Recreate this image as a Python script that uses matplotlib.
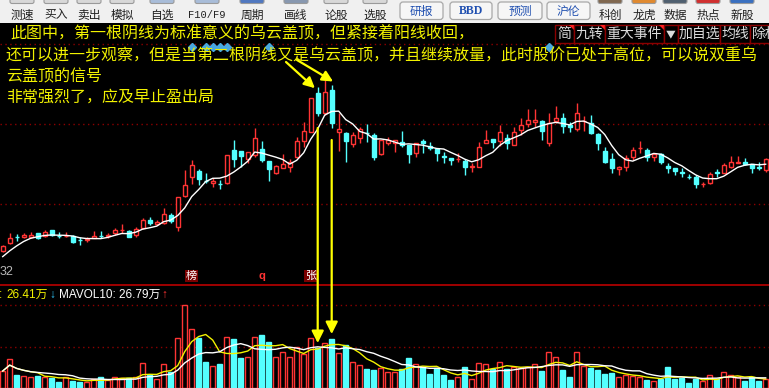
import numpy as np
import pandas as pd
import matplotlib
matplotlib.use('Agg')
import matplotlib.pyplot as plt
from matplotlib.patches import Rectangle, FancyBboxPatch, Polygon, ConnectionPatch

plt.rcParams['font.family'] = ['Noto Sans CJK SC', 'DejaVu Sans']

# daily bars, 110 sessions (price units)
opens = [4.93, 5.67, 6.35, 6.33, 6.27, 6.67, 6.43, 7.00, 6.45, 6.38,
         6.40, 6.02, 6.05, 6.23, 6.42, 6.41, 6.67, 6.98, 6.93, 6.50,
         7.17, 8.00, 7.60, 7.67, 8.50, 7.27, 10.40, 12.27, 12.93, 11.92,
         11.73, 11.59, 11.67, 15.00, 14.90, 14.10, 14.50, 15.10, 13.93, 12.73,
         13.23, 13.33, 14.27, 15.93, 16.83, 20.67, 18.70, 21.00, 16.77, 16.67,
         15.57, 16.17, 16.69, 16.50, 14.57, 15.67, 15.67, 15.77, 15.50, 14.73,
         15.93, 15.40, 15.07, 14.35, 14.17, 14.08, 13.93, 13.31, 13.33, 15.67,
         16.10, 15.93, 16.17, 15.50, 17.00, 17.57, 17.83, 17.93, 15.67, 17.93,
         18.17, 17.50, 17.07, 17.88, 17.73, 16.60, 14.90, 14.07, 13.10, 13.33,
         14.33, 15.15, 15.00, 14.27, 14.60, 13.40, 13.17, 12.83, 12.29, 12.27,
         11.55, 11.67, 12.83, 12.73, 13.33, 13.67, 13.83, 13.60, 13.25, 13.00]
highs = [5.50, 6.67, 6.60, 6.67, 6.83, 6.73, 7.00, 7.00, 6.77, 6.83,
         6.50, 6.27, 6.27, 6.90, 6.90, 6.67, 7.23, 7.57, 7.00, 7.33,
         8.17, 8.33, 8.00, 9.17, 8.73, 10.27, 13.00, 14.00, 13.07, 12.73,
         12.17, 12.00, 14.50, 16.00, 14.90, 14.83, 17.23, 15.90, 13.93, 13.50,
         14.60, 14.10, 16.33, 17.77, 20.20, 21.33, 22.00, 21.50, 18.67, 16.83,
         16.83, 17.33, 17.57, 16.67, 16.00, 16.27, 16.00, 16.90, 15.50, 15.67,
         16.07, 15.83, 15.17, 14.83, 14.17, 14.67, 14.07, 13.73, 15.83, 17.00,
         16.10, 17.50, 16.60, 17.27, 18.17, 19.10, 19.10, 18.00, 18.67, 19.40,
         18.67, 17.83, 19.67, 18.40, 18.50, 16.73, 15.33, 14.67, 13.40, 14.50,
         15.33, 15.93, 15.17, 14.73, 14.73, 13.67, 13.17, 13.17, 12.60, 12.50,
         11.83, 12.77, 13.10, 13.73, 14.40, 14.40, 14.17, 13.60, 13.77, 14.17]
lows = [4.85, 5.60, 5.93, 6.17, 6.17, 6.07, 6.33, 6.40, 6.23, 6.27,
        5.67, 5.50, 5.83, 6.17, 6.23, 6.23, 6.50, 6.73, 6.27, 6.33,
        7.07, 7.50, 7.50, 7.60, 7.73, 6.93, 10.33, 11.60, 11.50, 11.67,
        11.33, 11.07, 11.60, 13.33, 13.33, 13.67, 14.33, 13.83, 11.90, 12.60,
        13.17, 12.83, 14.17, 15.33, 16.80, 18.40, 18.50, 17.20, 14.93, 13.77,
        15.33, 15.67, 15.83, 14.00, 14.50, 15.50, 14.83, 15.33, 13.67, 14.27,
        14.73, 15.00, 13.93, 13.67, 13.50, 13.83, 12.50, 12.77, 13.33, 15.67,
        15.17, 15.43, 15.10, 15.50, 16.50, 17.33, 17.33, 16.00, 15.43, 17.73,
        16.73, 16.83, 16.93, 16.93, 16.60, 15.00, 13.67, 12.67, 12.50, 12.93,
        14.00, 14.73, 13.93, 13.90, 13.60, 12.67, 12.50, 12.27, 12.07, 11.23,
        11.33, 11.57, 12.33, 12.67, 13.23, 13.67, 13.50, 12.73, 13.00, 12.83]
closes = [5.40, 6.17, 6.30, 6.50, 6.50, 6.17, 6.83, 6.50, 6.40, 6.42,
          5.83, 5.98, 6.09, 6.40, 6.38, 6.45, 7.00, 7.02, 6.33, 7.10,
          8.00, 7.67, 7.83, 8.57, 7.90, 10.27, 11.47, 13.50, 12.10, 11.88,
          11.90, 11.55, 14.50, 14.13, 14.40, 14.77, 16.17, 14.00, 13.10, 13.40,
          13.60, 13.83, 15.90, 16.90, 20.17, 18.67, 20.80, 17.73, 17.07, 15.93,
          16.50, 17.07, 16.65, 14.33, 16.00, 16.00, 16.00, 15.50, 14.57, 15.67,
          15.67, 15.17, 14.67, 14.31, 14.00, 14.12, 13.33, 13.35, 15.33, 16.00,
          15.83, 16.77, 15.73, 16.77, 17.50, 18.00, 18.00, 16.93, 17.73, 18.17,
          17.43, 17.27, 18.67, 17.92, 16.73, 15.67, 13.77, 13.17, 13.33, 14.17,
          15.00, 15.19, 14.33, 14.60, 13.77, 13.17, 12.90, 12.67, 12.25, 11.57,
          11.59, 12.57, 12.67, 13.50, 13.77, 13.83, 13.60, 13.17, 13.21, 14.07]
# closes of the four sessions before the window (MA5 warm-up)
ma_seed = [3.3, 3.8, 4.3, 4.9]

# volume, 万手
volumes = [42.5, 71.8, 32.5, 30, 26.8, 30, 28.3, 25.8, 15.8, 26.8,
           17.5, 15, 14.3, 21.8, 27.5, 20, 28.3, 24.3, 24.3, 28.3,
           61.8, 32.5, 22.5, 59.3, 40.8, 124.3, 207.5, 146.8, 124.3, 65.8,
           55, 60, 126.8, 122.5, 75.8, 76.8, 126.8, 132.5, 115.8, 76.8,
           90.8, 76.8, 101.8, 85, 124.3, 99.3, 111.8, 121.8, 86.8, 107.5,
           65.8, 57.5, 47.5, 45, 50.8, 40, 40, 46.8, 75, 60,
           51.8, 35, 49.3, 32.5, 20, 27.5, 52.5, 22.5, 61.8, 59.3,
           46.8, 64.3, 46.8, 51.8, 49.3, 51.8, 59.3, 43.3, 89.3, 76.8,
           45, 27.5, 89.3, 55, 50, 45, 35, 37.5, 26.8, 32.5,
           30, 26.8, 20, 17.5, 22.5, 51.8, 22.5, 25.8, 12.5, 22.5,
           17.5, 31.8, 21.8, 39.3, 31.8, 26.8, 17.5, 27.5, 17.5, 22.5]

# event markers and badges
event_days = [27, 29, 30, 31, 32, 38, 78]
badges = [(27, '榜'), (37, 'q'), (44, '张')]

note_lines = ['此图中，第一根阴线为标准意义的乌云盖顶，但紧接着阳线收回，',
              '还可以进一步观察，但是当第二根阴线又是乌云盖顶，并且继续放量，此时股价已处于高位，可以说双重乌',
              '云盖顶的信号',
              '非常强烈了，应及早止盈出局']

RED = '#ff3434'
CYAN = '#54ffff'
YEL = '#f2f200'
GRID = '#8c0000'

W, H = 769, 388
fig = plt.figure(figsize=(W / 100, H / 100), dpi=100, facecolor='black')
ax_p = fig.add_axes([0, 104 / H, 1, 261 / H])
ax_v = fig.add_axes([0, 0, 1, 104 / H])
for ax in (ax_p, ax_v):
    ax.set_facecolor('black')
    ax.set_xlim(-2.7 / 7, (W - 2.7) / 7)
    for s in ax.spines.values():
        s.set_visible(False)
    ax.set_xticks([])
    ax.set_yticks([])
ax_p.set_ylim(1.6, 27.7)
ax_v.set_ylim(0, 260)

x = np.arange(len(closes))
o, h, l, c = (np.array(v) for v in (opens, highs, lows, closes))
up = c >= o
cols = np.where(up, RED, CYAN)
fills = np.where(up, 'black', CYAN)

for y in (25.6, 17.6, 9.6):
    ax_p.axhline(y, color=GRID, lw=1, ls=(0, (1, 2.5)), zorder=0)
for y in (102.5, 207.5):
    ax_v.axhline(y, color=GRID, lw=1, ls=(0, (1, 2.5)), zorder=0)

# candles
ax_p.vlines(x, l, h, colors=cols, lw=1, zorder=2)
ax_p.bar(x, np.abs(c - o), bottom=np.minimum(o, c), width=0.62,
         color=fills, edgecolor=cols, linewidth=1, zorder=3)
ma5 = pd.Series(ma_seed + closes).rolling(5).mean().iloc[len(ma_seed):].values
ax_p.plot(x, ma5, color='white', lw=1, zorder=4)

ax_p.plot(event_days, [25.25] * len(event_days), ls='none', marker='D',
          ms=4, color='#48a8e0', zorder=5)
for i, t in badges:
    if t == 'q':
        ax_p.text(i, 2.4, t, color=RED, fontsize=8, ha='center', va='center',
                  family=['Liberation Sans'], fontweight='bold')
    else:
        ax_p.text(i, 2.4, t, color='white', fontsize=8, ha='center', va='center',
                  bbox=dict(boxstyle='square,pad=0.08', fc='#7a0000', ec='none'))

# volume
ax_v.bar(x, volumes, width=0.7, color=fills, edgecolor=cols, linewidth=1, zorder=3)
vol = pd.Series(volumes)
ax_v.plot(x, vol.rolling(5, min_periods=1).mean(), color=YEL, lw=1, zorder=4)
ax_v.plot(x, vol.rolling(10, min_periods=1).mean(), color='white', lw=1, zorder=4)

# overlay in pixel units
ov = fig.add_axes([0, 0, 1, 1], zorder=10)
ov.set_xlim(0, W)
ov.set_ylim(H, 0)
ov.axis('off')
ov.patch.set_alpha(0)

ov.plot([0, W], [284.5, 284.5], color='#a00000', lw=1.4)

# toolbar
ov.add_patch(Rectangle((0, 0), W, 23, fc='#f0f0f0', ec='none'))
tools = [('测速', 22, '#d8d8d8'), ('买入', 56, '#d8d8d8'), ('卖出', 89, '#d8d8d8'),
         ('模拟', 122, '#d8d8d8'), ('自选', 162, '#a8bcd8'), ('F10/F9', 207, '#a8bcd8'),
         ('周期', 252, '#5078c0'), ('画线', 296, '#8898b0'), ('论股', 336, '#d8d8d8'),
         ('选股', 375, '#d8d8d8'), ('科创', 610, '#806850'), ('龙虎', 644, '#e08a30'),
         ('数据', 675, '#506070'), ('热点', 708, '#d03030'), ('新股', 742, '#3a70c0')]
for t, cx, ic in tools:
    ov.add_patch(FancyBboxPatch((cx - 12, -4), 24, 7.5, boxstyle='round,pad=0,rounding_size=2',
                                fc=ic, ec='#9a9a9a', lw=0.8))
    if t == 'F10/F9':
        ov.text(cx, 15, t, color='#202020', fontsize=7.5, ha='center', va='center',
                family=['Liberation Mono'])
    else:
        ov.text(cx, 15, t, color='#202020', fontsize=8.5, ha='center', va='center')
for t, x0, x1 in [('研报', 400, 443), ('BBD', 450, 492), ('预测', 498, 542), ('沪伦', 547, 590)]:
    ov.add_patch(FancyBboxPatch((x0, 2), x1 - x0, 17.5, boxstyle='round,pad=0,rounding_size=3',
                                fc='#f6f6f6', ec='#a8a8a8', lw=0.9))
    if t == 'BBD':
        ov.text((x0 + x1) / 2, 11.5, t, color='#1f4fb0', fontsize=8.5, ha='center',
                va='center', family=['Liberation Serif'], fontweight='bold')
    else:
        ov.text((x0 + x1) / 2, 11.5, t, color='#1f4fb0', fontsize=8.5, ha='center', va='center')

# right-hand buttons on the first text row
edges = [555, 573.5, 605, 663.5, 678, 720, 750, 800]
labels = ['简', '九转', '重大事件', '▼', '加自选', '均线', '除权']
for k, t in enumerate(labels):
    ov.add_patch(Rectangle((edges[k], 25), edges[k + 1] - edges[k], 18, fc='black',
                           ec='#8a0000', lw=1))
    ov.text((edges[k] + edges[k + 1]) / 2 if k < 6 else 752, 34, t, color='#dcdcdc',
            fontsize=7 if t == '▼' else 10, ha='center' if k < 6 else 'left', va='center')
    if k < 3:
        r = edges[k + 1]
        ov.add_patch(Polygon([(r - 5, 25), (r, 25), (r, 30)], closed=True, fc='#ff2020', ec='none'))

# annotation text
ov.text(10, 34, note_lines[0], color=YEL, fontsize=11.5, va='center', ha='left')
ov.text(6, 56, note_lines[1], color=YEL, fontsize=11.5, va='center', ha='left')
ov.text(6, 77, note_lines[2], color=YEL, fontsize=11.5, va='center', ha='left')
ov.text(6, 97.5, note_lines[3], color=YEL, fontsize=11.5, va='center', ha='left')

ov.text(0, 272, '32', color='#b8b8b8', fontsize=9, va='center', ha='left',
        family=['Liberation Sans'])

# volume legend
lf = ['Liberation Sans', 'Noto Sans CJK SC']
ov.text(-1, 295, ':', color=YEL, fontsize=8.5, va='center', family=lf)
ov.text(6, 295, '26.41万', color=YEL, fontsize=8.5, va='center', family=lf)
ov.text(49, 295, '↓', color='#30c8ff', fontsize=8.5, va='center', family=lf)
ov.text(59, 295, 'MAVOL10: 26.79万', color='white', fontsize=8.5, va='center', family=lf)
ov.text(161, 295, '↑', color=RED, fontsize=8.5, va='center', family=lf)

# arrows
for tail, (i, dp) in [((286, 62), (44.6, -0.15)), ((297, 60), (47.2, 0.35))]:
    head = (i, highs[int(round(i))] + dp)
    fig.add_artist(ConnectionPatch(tail, head, coordsA=ov.transData, coordsB=ax_p.transData,
                                   arrowstyle='-|>', color='#ffff00', lw=1.6,
                                   mutation_scale=16, zorder=20))
for i in (45, 47):
    fig.add_artist(ConnectionPatch((i, lows[i] - 1.2), (i, volumes[i] + 13),
                                   coordsA=ax_p.transData, coordsB=ax_v.transData,
                                   arrowstyle='-|>', color='#ffff00', lw=1.6,
                                   mutation_scale=18, zorder=20))

fig.savefig('out.png', dpi=100, facecolor='black')
